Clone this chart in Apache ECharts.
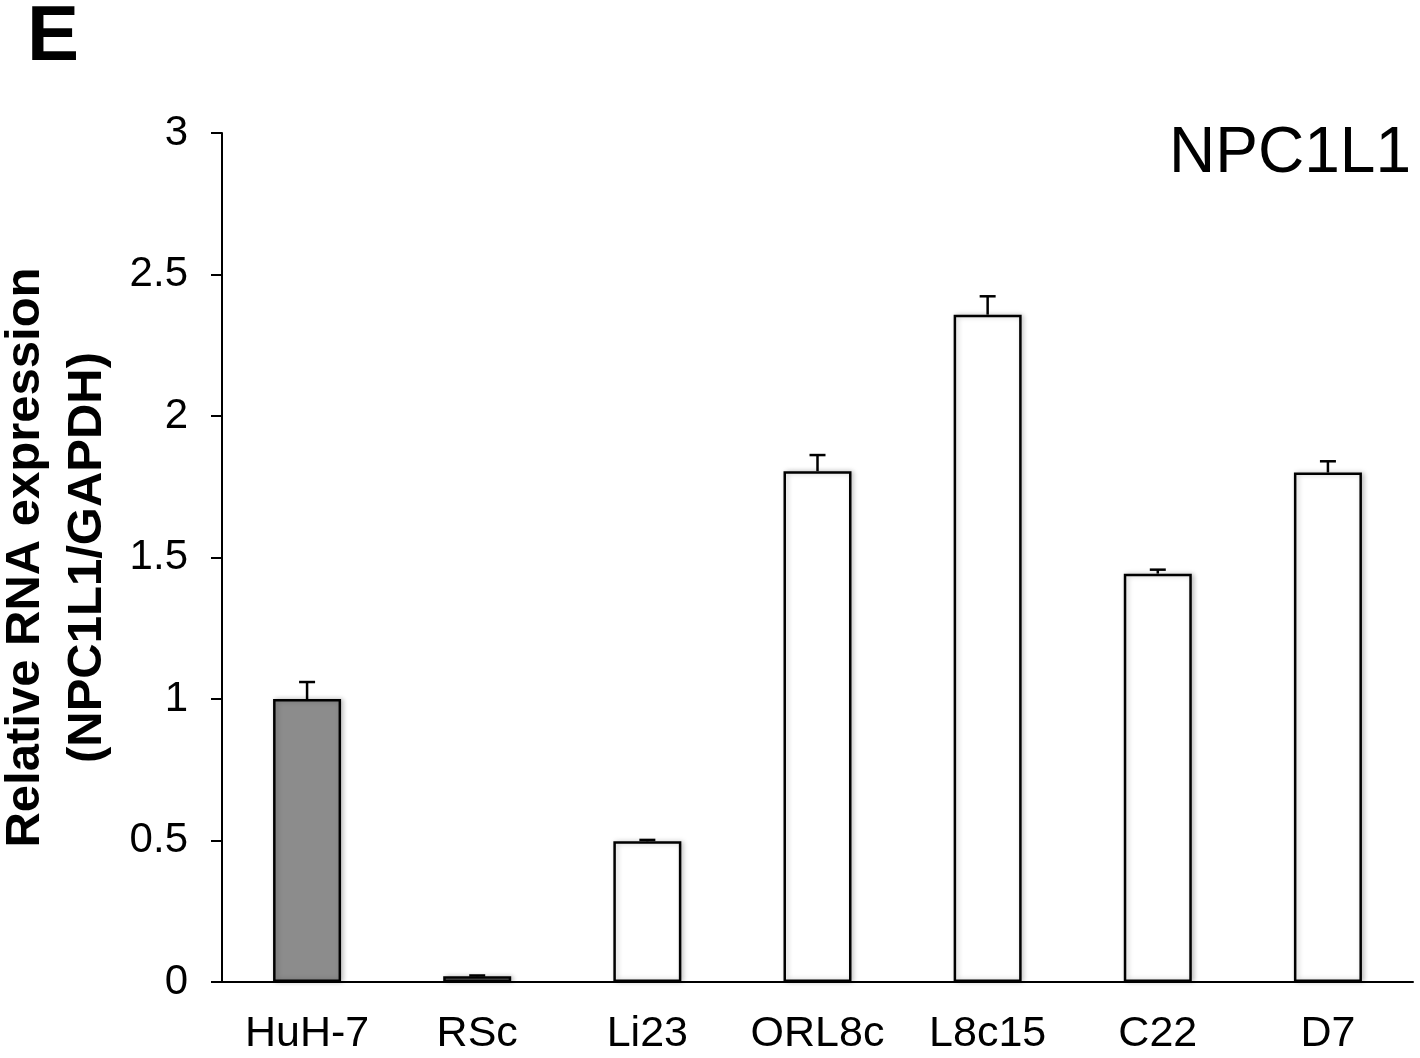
<!DOCTYPE html>
<html>
<head>
<meta charset="utf-8">
<script src="https://cdn.jsdelivr.net/npm/echarts@6/dist/echarts.min.js"></script>
<style>
  html, body { margin: 0; padding: 0; background: #fff; }
  #chart { width: 1420px; height: 1058px; }
</style>
</head>
<body>
<div id="chart"></div>
<script>
// Cell lines and NPC1L1 expression relative to GAPDH (HuH-7 = 1)
const cellLines = ['HuH-7', 'RSc', 'Li23', 'ORL8c', 'L8c15', 'C22', 'D7'];
const meanExpr  = [1.00, 0.02, 0.497, 1.805, 2.358, 1.443, 1.800];
const errExpr   = [0.06, 0.003, 0.005, 0.057, 0.065, 0.014, 0.040];
const barFills  = ['#8c8c8c', '#8c8c8c', '#ffffff', '#ffffff', '#ffffff', '#ffffff', '#ffffff'];
const yTicks    = { min: 0, max: 3, step: 0.5 };

const FONT = '"Liberation Sans", Arial, Helvetica, sans-serif';

const chart = echarts.init(document.getElementById('chart'), null, { renderer: 'canvas' });

const barData = meanExpr.map((v, i) => ({
  value: v,
  itemStyle: { color: barFills[i] }
}));

const errData = meanExpr.map((v, i) => [i, v, v + errExpr[i]]);

chart.setOption({
  backgroundColor: '#ffffff',
  animation: false,
  title: [
    {
      text: 'E',
      left: 22, top: -6,
      textStyle: { fontFamily: FONT, fontWeight: 'bold', fontSize: 78, color: '#000' }
    },
    {
      text: 'NPC1L1',
      right: 4, top: 117,
      textStyle: { fontFamily: FONT, fontWeight: 'normal', fontSize: 64, color: '#000' }
    }
  ],
  grid: { left: 222, right: 7, top: 133, bottom: 76, containLabel: false, outerBoundsMode: 'none' },
  xAxis: {
    type: 'category',
    data: cellLines,
    axisLine: { show: true, lineStyle: { color: '#000', width: 2 } },
    axisTick: { show: false },
    axisLabel: { fontFamily: FONT, fontSize: 43, color: '#000', margin: 31, interval: 0 }
  },
  yAxis: {
    type: 'value',
    min: yTicks.min, max: yTicks.max, interval: yTicks.step,
    name: 'Relative RNA expression\n(NPC1L1/GAPDH)',
    nameLocation: 'middle',
    nameRotate: 90,
    nameGap: 96,
    nameTextStyle: {
      fontFamily: FONT, fontWeight: 'bold', fontSize: 49, color: '#000',
      lineHeight: 62, align: 'center'
    },
    splitLine: { show: false },
    axisLine: { show: true, lineStyle: { color: '#000', width: 2 } },
    axisTick: { show: true, inside: false, length: 11, lineStyle: { color: '#000', width: 2 } },
    axisLabel: { fontFamily: FONT, fontSize: 42, color: '#000', margin: 34 }
  },
  series: [
    {
      type: 'bar',
      data: barData,
      barWidth: 68,
      itemStyle: {
        borderColor: '#000',
        borderWidth: 2.5,
        shadowBlur: 5,
        shadowColor: 'rgba(0,0,0,0.22)',
        shadowOffsetX: 2,
        shadowOffsetY: 0
      },
      z: 2
    },
    {
      type: 'custom',
      data: errData,
      z: 3,
      renderItem: function (params, api) {
        const x = api.value(0);
        const base = api.coord([x, api.value(1)]);
        const top = api.coord([x, api.value(2)]);
        const half = 8;
        const style = { stroke: '#000', lineWidth: 2.5, fill: null };
        return {
          type: 'group',
          children: [
            { type: 'line', shape: { x1: base[0], y1: base[1], x2: top[0], y2: top[1] }, style: style },
            { type: 'line', shape: { x1: top[0] - half, y1: top[1], x2: top[0] + half, y2: top[1] }, style: style }
          ]
        };
      }
    }
  ]
});
</script>
</body>
</html>
